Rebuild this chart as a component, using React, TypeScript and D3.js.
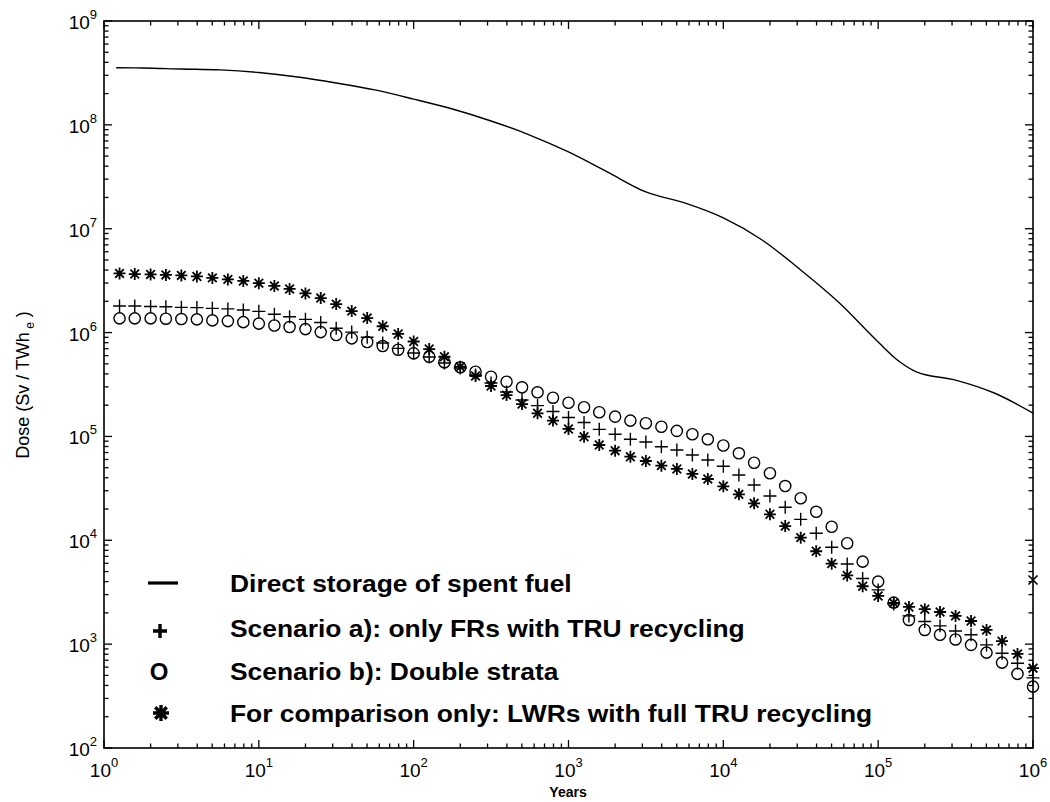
import * as d3 from 'd3';
import React from 'react';

// marker positions (years), 10 per decade
const years = [
  1.26, 1.58, 2, 2.51, 3.16, 3.98, 5.01, 6.31, 7.94, 10,
  12.6, 15.8, 20, 25.1, 31.6, 39.8, 50.1, 63.1, 79.4, 100,
  126, 158, 200, 251, 316, 398, 501, 631, 794, 1000,
  1260, 1580, 2000, 2510, 3160, 3980, 5010, 6310, 7940, 10000,
  12600, 15800, 20000, 25100, 31600, 39800, 50100, 63100, 79400, 100000,
  126000, 158000, 200000, 251000, 316000, 398000, 501000, 631000, 794000, 1000000,
];

// Scenario a): only FRs with TRU recycling  (+)
const scenarioA = [
  1.8e6, 1.8e6, 1.78e6, 1.77e6, 1.75e6, 1.74e6, 1.71e6, 1.69e6, 1.65e6, 1.6e6,
  1.5e6, 1.42e6, 1.34e6, 1.25e6, 1.1e6, 1.01e6, 9.0e5, 7.93e5, 7.05e5, 6.35e5,
  5.81e5, 5.09e5, 4.56e5, 3.9e5, 3.27e5, 2.68e5, 2.24e5, 1.98e5, 1.74e5, 1.52e5,
  1.36e5, 1.17e5, 1.05e5, 9.38e4, 8.84e4, 7.96e4, 7.4e4, 6.63e4, 5.93e4, 5.16e4,
  4.25e4, 3.41e4, 2.67e4, 2.08e4, 1.59e4, 1.17e4, 8.57e3, 5.92e3, 4.29e3, 3.33e3,
  2.44e3, 1.87e3, 1.65e3, 1.5e3, 1.34e3, 1.23e3, 983, 818, 655, 473,
];

// Scenario b): Double strata  (O)
const scenarioB = [
  1.37e6, 1.37e6, 1.37e6, 1.36e6, 1.35e6, 1.34e6, 1.31e6, 1.29e6, 1.26e6, 1.22e6,
  1.17e6, 1.13e6, 1.08e6, 1.01e6, 9.47e5, 8.8e5, 8.11e5, 7.42e5, 6.83e5, 6.31e5,
  5.85e5, 5.17e5, 4.63e5, 4.2e5, 3.76e5, 3.36e5, 2.97e5, 2.66e5, 2.36e5, 2.11e5,
  1.91e5, 1.71e5, 1.55e5, 1.42e5, 1.34e5, 1.24e5, 1.13e5, 1.05e5, 9.38e4, 8.18e4,
  6.88e4, 5.58e4, 4.42e4, 3.33e4, 2.54e4, 1.88e4, 1.35e4, 9.36e3, 6.23e3, 4.0e3,
  2.51e3, 1.71e3, 1.37e3, 1.23e3, 1.11e3, 983, 829, 664, 517, 390,
];

// For comparison only: LWRs with full TRU recycling  (*)
const lwrFull = [
  3.71e6, 3.66e6, 3.63e6, 3.59e6, 3.55e6, 3.47e6, 3.36e6, 3.25e6, 3.14e6, 2.99e6,
  2.81e6, 2.63e6, 2.38e6, 2.15e6, 1.88e6, 1.61e6, 1.38e6, 1.15e6, 9.7e5, 8.2e5,
  6.94e5, 5.85e5, 4.69e5, 3.82e5, 3.06e5, 2.5e5, 2.05e5, 1.67e5, 1.42e5, 1.18e5,
  9.94e4, 8.27e4, 7.29e4, 6.38e4, 5.8e4, 5.23e4, 4.86e4, 4.35e4, 3.89e4, 3.31e4,
  2.77e4, 2.27e4, 1.78e4, 1.37e4, 1.06e4, 7.84e3, 5.96e3, 4.59e3, 3.61e3, 2.91e3,
  2.49e3, 2.28e3, 2.17e3, 2.04e3, 1.87e3, 1.67e3, 1.37e3, 1.07e3, 805, 587,
];

// Direct storage of spent fuel (solid line)
const directYears = [
  1.2, 1.78, 3.16, 5.62, 10, 17.8, 31.6, 56.2, 100, 178, 316, 562, 1000,
  1780, 3160, 5620, 10000, 17800, 31600, 56200, 100000, 133000, 178000,
  316000, 562000, 1000000,
];
const directDose = [
  3.55e8, 3.53e8, 3.45e8, 3.38e8, 3.19e8, 2.89e8, 2.53e8, 2.17e8, 1.77e8, 1.42e8,
  1.09e8, 7.98e7, 5.48e7, 3.52e7, 2.26e7, 1.77e7, 1.27e7, 7.79e6, 4.01e6, 1.93e6,
  8.12e5, 5.45e5, 4.17e5, 3.49e5, 2.62e5, 1.68e5,
];

// stray mark at the right edge
const strayYears = [1000000];
const strayDose = [4150];

const xDecades = [1, 10, 100, 1000, 10000, 100000, 1000000];
const yDecades = [1e2, 1e3, 1e4, 1e5, 1e6, 1e7, 1e8, 1e9];

const legendLabels = [
  'Direct storage of spent fuel',
  'Scenario a): only FRs with TRU recycling',
  'Scenario b): Double strata',
  'For comparison only: LWRs with full TRU recycling',
];

const FONT = '"Liberation Sans", Arial, Helvetica, sans-serif';

const plusPath = (s: number) => `M${-s},0H${s}M0,${-s}V${s}`;
const starPath = (s: number) => {
  const d = s * 0.72;
  return `M${-s},0H${s}M0,${-s}V${s}M${-d},${-d}L${d},${d}M${-d},${d}L${d},${-d}`;
};
const xPath = (s: number) => `M${-s},${-s}L${s},${s}M${-s},${s}L${s},${-s}`;

const isDecade = (v: number) => Math.abs(Math.log10(v) - Math.round(Math.log10(v))) < 1e-9;

export default function App() {
  const W = 1050;
  const H = 802;
  const left = 104;
  const right = 1033;
  const top = 21;
  const bottom = 748;

  const x = d3.scaleLog().domain([1, 1e6]).range([left, right]);
  const y = d3.scaleLog().domain([1e2, 1e9]).range([bottom, top]);

  const line = d3
    .line<number>()
    .x((_, i) => x(directYears[i]))
    .y(d => y(d))
    .curve(d3.curveMonotoneX);

  const xTicks = x.ticks();
  const yTicks = y.ticks();

  const legendY = [592, 637, 680, 722];

  return (
    <svg
      width={W}
      height={H}
      style={{ position: 'absolute', left: 0, top: 0, background: '#fff' }}
      fontFamily={FONT}
    >
      <rect x={0} y={0} width={W} height={H} fill="#fff" />

      {/* frame */}
      <rect
        x={left}
        y={top}
        width={right - left}
        height={bottom - top}
        fill="none"
        stroke="#000"
        strokeWidth={1.6}
      />

      {/* x ticks, inward on bottom and top */}
      {xTicks.map((t, i) => {
        const len = isDecade(t) ? 8 : 4.5;
        const px = x(t);
        return (
          <g key={'xt' + i} stroke="#000" strokeWidth={1.3}>
            <line x1={px} x2={px} y1={bottom} y2={bottom - len} />
            <line x1={px} x2={px} y1={top} y2={top + len} />
          </g>
        );
      })}
      {/* y ticks, inward on left and right */}
      {yTicks.map((t, i) => {
        const len = isDecade(t) ? 8 : 4.5;
        const py = y(t);
        return (
          <g key={'yt' + i} stroke="#000" strokeWidth={1.3}>
            <line x1={left} x2={left + len} y1={py} y2={py} />
            <line x1={right} x2={right - len} y1={py} y2={py} />
          </g>
        );
      })}

      {/* tick labels */}
      {xDecades.map((d, i) => (
        <text key={'xl' + i} x={x(d)} y={777} fontSize={19} textAnchor="middle" fill="#000">
          10
          <tspan dy={-10} fontSize={13}>
            {Math.round(Math.log10(d))}
          </tspan>
        </text>
      ))}
      {yDecades.map((d, i) => (
        <text key={'yl' + i} x={97} y={y(d) + 8} fontSize={19} textAnchor="end" fill="#000">
          10
          <tspan dy={-10} fontSize={13}>
            {Math.round(Math.log10(d))}
          </tspan>
        </text>
      ))}

      {/* axis titles */}
      <text x={568} y={797} fontSize={14} fontWeight="bold" textAnchor="middle">
        Years
      </text>
      <text transform="translate(29,385) rotate(-90)" fontSize={18} textAnchor="middle">
        Dose (Sv / TWh
        <tspan dy={5} fontSize={12}>
          {' '}e
        </tspan>
        <tspan dy={-5}> )</tspan>
      </text>

      {/* direct storage line */}
      <path d={line(directDose) || ''} fill="none" stroke="#000" strokeWidth={1.4} />

      {/* scenario b circles */}
      {scenarioB.map((v, i) => (
        <circle
          key={'o' + i}
          cx={x(years[i])}
          cy={y(v)}
          r={5.6}
          fill="none"
          stroke="#000"
          strokeWidth={1.4}
        />
      ))}
      {/* scenario a plus */}
      {scenarioA.map((v, i) => (
        <path
          key={'p' + i}
          d={plusPath(6.5)}
          transform={`translate(${x(years[i])},${y(v)})`}
          stroke="#000"
          strokeWidth={1.4}
          fill="none"
        />
      ))}
      {/* LWR asterisks */}
      {lwrFull.map((v, i) => (
        <path
          key={'s' + i}
          d={starPath(6)}
          transform={`translate(${x(years[i])},${y(v)})`}
          stroke="#000"
          strokeWidth={1.8}
          fill="none"
        />
      ))}
      {strayDose.map((v, i) => (
        <path
          key={'x' + i}
          d={xPath(4.5)}
          transform={`translate(${x(strayYears[i])},${y(v)})`}
          stroke="#000"
          strokeWidth={1.6}
        />
      ))}

      {/* legend */}
      <g>
        <line x1={148} x2={178} y1={legendY[0] - 9} y2={legendY[0] - 9} stroke="#000" strokeWidth={3.2} />
        <path d={plusPath(7)} transform={`translate(160,${legendY[1] - 6})`} stroke="#000" strokeWidth={3.4} />
        <text x={159} y={legendY[2]} fontSize={24} fontWeight="bold" textAnchor="middle">
          O
        </text>
        <path d={starPath(8)} transform={`translate(161,${legendY[3] - 9})`} stroke="#000" strokeWidth={3.4} />
        {legendLabels.map((l, i) => (
          <text
            key={'lg' + i}
            transform={`translate(230,${legendY[i]}) scale(1.1,1)`}
            fontSize={24}
            fontWeight="bold"
            fill="#000"
          >
            {l}
          </text>
        ))}
      </g>
    </svg>
  );
}
